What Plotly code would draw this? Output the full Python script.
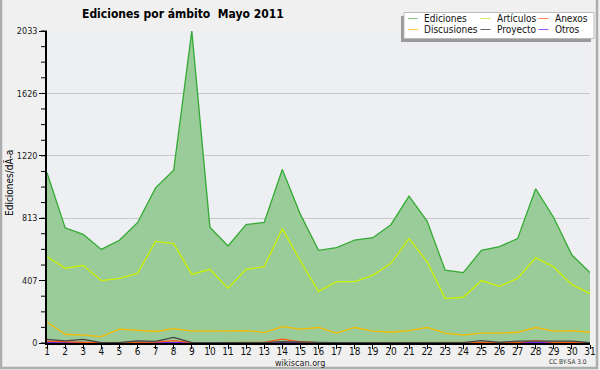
import plotly.graph_objects as go

days = list(range(1, 32))
day_labels = [str(d) for d in days]

ediciones = [1110, 751, 708, 610, 669, 784, 1011, 1126, 2033, 755, 632, 771, 786, 1131, 838, 604,
             621, 671, 686, 771, 957, 794, 474, 459, 604, 628, 680, 1005, 816, 573, 459]
articulos = [563, 487, 506, 407, 421, 454, 662, 647, 447, 480, 356, 480, 497, 745, 534, 335,
             400, 400, 441, 519, 680, 530, 289, 298, 407, 369, 421, 556, 495, 380, 322]
discusiones = [137, 57, 51, 42, 90, 81, 75, 94, 77, 77, 81, 81, 68, 107, 90, 101,
               64, 101, 77, 70, 81, 101, 64, 51, 64, 64, 70, 101, 77, 81, 70]
proyecto = [23, 14, 23, 2, 2, 14, 10, 36, 2, 2, 2, 2, 2, 8, 4, 4,
            2, 2, 2, 2, 6, 6, 4, 2, 16, 4, 12, 12, 10, 12, 2]
anexos = [12, 6, 4, 2, 2, 2, 6, 16, 2, 2, 2, 2, 4, 25, 8, 2,
          2, 2, 2, 2, 2, 4, 2, 2, 4, 2, 4, 16, 4, 4, 2]
otros = [4, 2, 2, 2, 2, 2, 2, 4, 2, 2, 2, 2, 2, 6, 4, 2,
         2, 2, 4, 6, 6, 4, 2, 2, 2, 2, 2, 4, 2, 2, 2]

y_ticks = [0, 407, 813, 1220, 1626, 2033]
y_minor = [round(i * 2033 / 20) for i in range(21)]

W, H = 600, 370
L, R, T, B = 47, 10, 31, 27
PW, PH = W - L - R, H - T - B


def px(x):
    return (x - L) / PW


def py(y):
    return (H - B - y) / PH


FONT = "DejaVu Sans Condensed, DejaVu Sans, sans-serif"

fig = go.Figure()
fig.add_trace(go.Scatter(x=days, y=ediciones, mode="lines", fill="tozeroy",
                         fillcolor="#99cc99", line=dict(color="#33aa33", width=1.3),
                         name="Ediciones"))
series = [
    ("Otros", otros, "#7a22ee"),
    ("Anexos", anexos, "#ff5511"),
    ("Proyecto", proyecto, "#444444"),
    ("Discusiones", discusiones, "#f5bb00"),
    ("Artículos", articulos, "#ccf000"),
]
for name, vals, col in series:
    fig.add_trace(go.Scatter(x=days, y=vals, mode="lines", name=name,
                             line=dict(color=col, width=1.3)))

shapes = []
annotations = []

# minor y ticks
for v in y_minor:
    f = v / 2033
    shapes.append(dict(type="line", xref="paper", yref="paper",
                       x0=-6 / PW, x1=0, y0=f, y1=f, line=dict(color="black", width=1)))

# outer border
shapes.append(dict(type="rect", xref="paper", yref="paper",
                   x0=px(1), x1=px(597), y0=py(-2), y1=py(368),
                   line=dict(color="#adadad", width=2.5), layer="below"))

# legend shadow and box
shapes.append(dict(type="rect", xref="paper", yref="paper",
                   x0=px(401), x1=px(591), y0=py(16), y1=py(42),
                   fillcolor="#9a9a9a", line=dict(width=0)))
shapes.append(dict(type="rect", xref="paper", yref="paper",
                   x0=px(404), x1=px(594), y0=py(12.5), y1=py(38.5),
                   fillcolor="white", line=dict(color="#bbbbbb", width=1)))

legend_items = [
    ("Ediciones", "#88cc88", 408, 18.5),
    ("Artículos", "#ccee66", 480.5, 18.5),
    ("Anexos", "#ff8855", 538.5, 18.5),
    ("Discusiones", "#ffcc44", 408, 29.5),
    ("Proyecto", "#666666", 480.5, 29.5),
    ("Otros", "#9955ee", 538.5, 29.5),
]
for text, col, x0, y0 in legend_items:
    shapes.append(dict(type="line", xref="paper", yref="paper",
                       x0=px(x0), x1=px(x0 + 10), y0=py(y0), y1=py(y0),
                       line=dict(color=col, width=1)))
    annotations.append(dict(text=text, xref="paper", yref="paper", x=px(x0 + 14), y=py(y0),
                            xanchor="left", yanchor="middle", showarrow=False,
                            font=dict(family=FONT, size=10, color="#111111")))

annotations.append(dict(text="<b>Ediciones por ámbito\u00a0 Mayo 2011</b>", xref="paper", yref="paper",
                        x=px(183), y=py(14), xanchor="center", yanchor="middle", showarrow=False,
                        font=dict(family=FONT, size=12, color="black")))
annotations.append(dict(text="wikiscan.org", xref="paper", yref="paper",
                        x=px(300), y=py(362.5), xanchor="center", yanchor="middle", showarrow=False,
                        font=dict(family=FONT, size=9, color="#222222")))
annotations.append(dict(text="CC BY-SA 3.0", xref="paper", yref="paper",
                        x=px(589), y=py(362), xanchor="right", yanchor="middle", showarrow=False,
                        font=dict(family=FONT, size=6.5, color="#333333")))
annotations.append(dict(text="Ediciones/dÃ-a", xref="paper", yref="paper",
                        x=px(9), y=py(183), xanchor="center", yanchor="middle", showarrow=False,
                        textangle=-90, font=dict(family=FONT, size=10, color="black")))

fig.update_layout(
    width=W, height=H,
    margin=dict(l=L, r=R, t=T, b=B, autoexpand=False),
    paper_bgcolor="#f0f0f0", plot_bgcolor="#eeeff2",
    showlegend=False,
    shapes=shapes, annotations=annotations,
    font=dict(family=FONT, size=10, color="black"),
    xaxis=dict(range=[1, 31], tickmode="array", tickvals=days, ticktext=day_labels,
               showgrid=False, zeroline=False, showline=True, linecolor="black", linewidth=1.5,
               ticks="outside", ticklen=4, tickcolor="black", ticklabelstandoff=-6,
               tickfont=dict(family=FONT, size=10, color="#111111")),
    yaxis=dict(range=[0, 2033], tickmode="array", tickvals=y_ticks,
               ticktext=[str(v) for v in y_ticks],
               showgrid=True, gridcolor="#c8c8c8", gridwidth=1, zeroline=False,
               showline=True, linecolor="black", linewidth=1.5,
               ticks="outside", ticklen=6, tickcolor="black",
               tickfont=dict(family=FONT, size=9, color="#222222")),
)

fig.write_html("out.html", config={"displayModeBar": False},
               post_script="document.body.style.margin='0';")
